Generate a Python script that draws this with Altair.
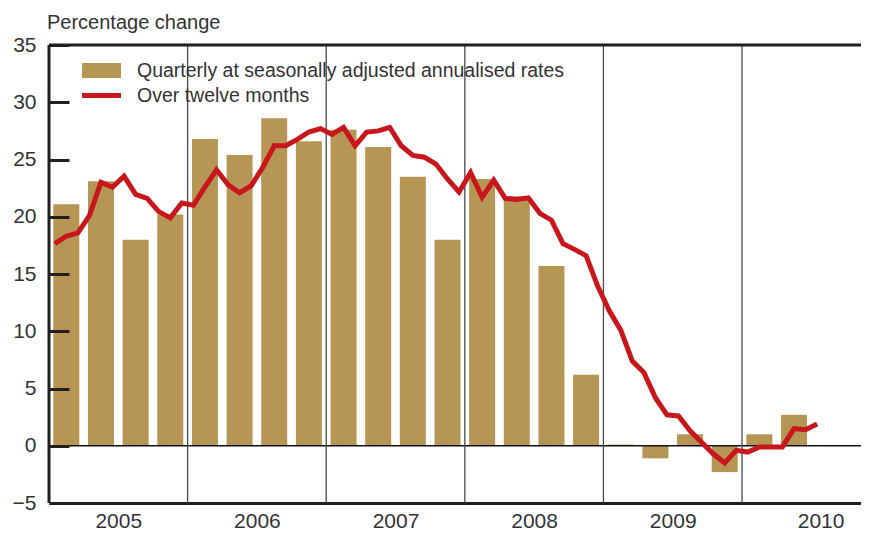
import altair as alt
import pandas as pd

FONT = "Liberation Sans"
GOLD = "#b59654"
RED = "#c8161d"
DARK = "#231f20"
TEXT = "#333333"

bar_label = "Quarterly at seasonally adjusted annualised rates"
line_label = "Over twelve months"

years = ["2005", "2006", "2007", "2008", "2009", "2010"]

quarters = [
    "2005 Q1", "2005 Q2", "2005 Q3", "2005 Q4",
    "2006 Q1", "2006 Q2", "2006 Q3", "2006 Q4",
    "2007 Q1", "2007 Q2", "2007 Q3", "2007 Q4",
    "2008 Q1", "2008 Q2", "2008 Q3", "2008 Q4",
    "2009 Q1", "2009 Q2", "2009 Q3", "2009 Q4",
    "2010 Q1", "2010 Q2",
]
quarterly = [
    21.1, 23.1, 18.0, 20.2,
    26.8, 25.4, 28.6, 26.6,
    27.6, 26.1, 23.5, 18.0,
    23.3, 21.8, 15.7, 6.2,
    0.1, -1.1, 1.0, -2.3,
    1.0, 2.7,
]

months = list(pd.date_range("2005-01-01", periods=67, freq="MS").strftime("%Y-%m"))
twelve_month = [
    17.65, 18.3, 18.6, 20.1, 23.0, 22.6, 23.55, 21.95, 21.6, 20.45, 19.9, 21.2,
    21.0, 22.6, 24.1, 22.8, 22.1, 22.7, 24.3, 26.2, 26.2, 26.75, 27.4, 27.7,
    27.2, 27.8, 26.2, 27.4, 27.5, 27.8, 26.2, 25.35, 25.2, 24.6, 23.3, 22.15,
    23.85, 21.7, 23.2, 21.6, 21.5, 21.65, 20.3, 19.7, 17.65, 17.15, 16.6, 13.95,
    11.8, 10.1, 7.4, 6.4, 4.2, 2.7, 2.6, 1.3, 0.3, -0.7, -1.5, -0.4,
    -0.55, -0.1, -0.1, -0.1, 1.5, 1.4, 1.9,
]

y_ticks = [-5, 0, 5, 10, 15, 20, 25, 30, 35]


def quarter_pos(q):
    y, qq = q.split(" Q")
    return (int(y) - 2005) * 12 + (int(qq) - 1) * 3 + 1.5


def month_pos(m):
    y, mm = m.split("-")
    return (int(y) - 2005) * 12 + (int(mm) - 1) + 0.5


bars_df = pd.DataFrame({
    "quarter": quarters,
    "pos": [quarter_pos(q) for q in quarters],
    "value": quarterly,
    "series": bar_label,
})
line_df = pd.DataFrame({
    "month": months,
    "pos": [month_pos(m) for m in months],
    "value": twelve_month,
    "series": line_label,
})
sep_df = pd.DataFrame({"pos": [(int(y) - 2005) * 12 for y in years[1:]]})
left_df = pd.DataFrame({"pos": [0]})
zero_df = pd.DataFrame({"v": [0]})
top_df = pd.DataFrame({"v": [35]})

x_scale = alt.Scale(domain=[0, 70.3], nice=False, zero=False, padding=0)
y_scale = alt.Scale(domain=[-5, 35], nice=False, zero=False)

x_axis = alt.Axis(
    values=[6, 18, 30, 42, 54, 66.8],
    labelExpr="toString(2005 + floor(datum.value / 12))",
    title=None, ticks=False, grid=False,
    domainWidth=3, domainColor=DARK,
    labelFont=FONT, labelFontSize=21, labelColor=TEXT,
    labelPadding=7, labelFlush=False, labelOverlap=False,
)
# axis moved 20px into the plot so its outward ticks sit inside the frame
y_axis = alt.Axis(
    values=y_ticks, title=None, grid=False, domain=False,
    offset=-20, ticks=True, tickSize=20, tickWidth=3, tickColor=DARK,
    zindex=1,
    labelFont=FONT, labelFontSize=21, labelColor=TEXT,
    labelPadding=13, labelOverlap=False,
)

bars = alt.Chart(bars_df).mark_bar(size=26).encode(
    x=alt.X("pos:Q", scale=x_scale, axis=x_axis),
    y=alt.Y("value:Q", scale=y_scale, axis=y_axis),
    color=alt.Color(
        "series:N",
        scale=alt.Scale(domain=[bar_label], range=[GOLD]),
        legend=alt.Legend(
            title=None, orient="none", legendX=33, legendY=6,
            symbolType="M-1,-0.385L1,-0.385L1,0.385L-1,0.385Z",
            symbolSize=1521, symbolStrokeWidth=0, symbolOpacity=1,
            labelFont=FONT, labelFontSize=19.5, labelColor=TEXT,
            labelOffset=16, padding=0, labelLimit=0,
        ),
    ),
)

zero = alt.Chart(zero_df).mark_rule(color="#111111", strokeWidth=1.5).encode(
    y=alt.Y("v:Q", scale=y_scale)
)
top = alt.Chart(top_df).mark_rule(color=DARK, strokeWidth=3).encode(
    y=alt.Y("v:Q", scale=y_scale)
)
seps = alt.Chart(sep_df).mark_rule(color="#4a4a4a", strokeWidth=1.3).encode(
    x=alt.X("pos:Q", scale=x_scale)
)
left = alt.Chart(left_df).mark_rule(color=DARK, strokeWidth=3).encode(
    x=alt.X("pos:Q", scale=x_scale)
)

line = alt.Chart(line_df).mark_line(strokeWidth=5).encode(
    x=alt.X("pos:Q", scale=x_scale),
    y=alt.Y("value:Q", scale=y_scale),
    stroke=alt.Stroke(
        "series:N",
        scale=alt.Scale(domain=[line_label], range=[RED]),
        legend=alt.Legend(
            title=None, orient="none", legendX=30.5, legendY=28.5,
            symbolType="stroke", symbolSize=1521, symbolStrokeWidth=5,
            labelFont=FONT, labelFontSize=19.5, labelColor=TEXT,
            labelOffset=13.5, padding=0, labelLimit=0,
        ),
    ),
)

chart = alt.layer(bars, zero, seps, top, left, line).properties(
    width=812,
    height=458,
    autosize=alt.AutoSizeParams(type="none"),
    padding={"left": 41, "top": 37, "right": 0, "bottom": 28},
    title=alt.TitleParams(
        "Percentage change", anchor="start", frame="group", font=FONT,
        fontSize=20, fontWeight="normal", color=TEXT, offset=1, dx=-2,
    ),
).configure_view(stroke=None)

chart.save("out.html", embed_options={"renderer": "svg", "actions": False})
